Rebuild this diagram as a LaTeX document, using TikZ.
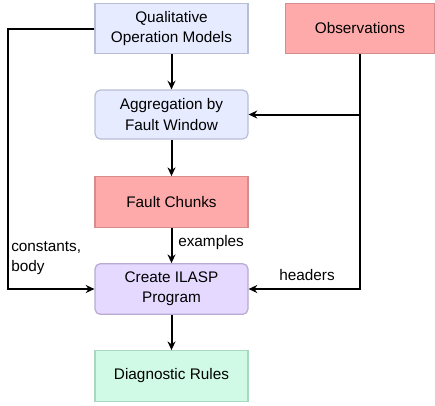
\documentclass[tikz,border=0pt]{standalone}
\usepackage{fontspec}
\setmainfont{Liberation Sans}
\usepackage{xcolor}
\usetikzlibrary{arrows.meta, positioning, calc}
\definecolor{modelblue}{RGB}{230, 235, 255}
\definecolor{modelline}{RGB}{184, 190, 214}
\definecolor{datared}{RGB}{255, 170, 170}
\definecolor{dataline}{RGB}{214, 140, 140}
\definecolor{progviolet}{RGB}{229, 217, 255}
\definecolor{progline}{RGB}{184, 170, 210}
\definecolor{rulegreen}{RGB}{208, 250, 230}
\definecolor{ruleline}{RGB}{168, 216, 192}

\begin{document}
\begin{tikzpicture}[x=0.75pt, y=-0.75pt,
    every node/.style={font=\fontsize{11.5}{15.2}\selectfont},
    box/.style={draw, line width=0.9pt, minimum width=114.75pt, minimum height=38pt,
      align=center, inner sep=2pt},
    procbox/.style={box, rounded corners=4pt},
    flow/.style={line width=1.5pt, -{Stealth[length=6.5pt, width=6pt]}}]
  \useasboundingbox (0,0) rectangle (435,405);

  % Inputs
  \node[box, draw=modelline, fill=modelblue] (qual) at (171.5, 28.5)
    {Qualitative\\Operation Models};
  \node[box, draw=dataline, fill=datared, minimum width=111.75pt] (obs) at (360, 28.5)
    {Observations};

  % Processing chain
  \node[procbox, draw=modelline, fill=modelblue, minimum height=36.75pt] (agg) at (171.5, 114.5)
    {Aggregation by\\Fault Window};
  \node[box, draw=dataline, fill=datared] (chunks) at (171.5, 202)
    {Fault Chunks};
  \node[procbox, draw=progline, fill=progviolet] (ilasp) at (171.5, 289)
    {Create ILASP\\Program};
  \node[box, draw=ruleline, fill=rulegreen] (rules) at (171.5, 376)
    {Diagnostic Rules};

  % Main flow
  \draw[flow] (qual) -- (agg);
  \draw[flow] (agg) -- (chunks);
  \draw[flow] (chunks) -- node[right, xshift=1pt, yshift=2pt] (ex) {examples} (ilasp);
  \draw[flow] (ilasp) -- (rules);

  % Observations feed
  \coordinate (obsbranch) at (obs.south |- agg.east);
  \draw[flow] (obs.south) |- (ilasp.east);
  \draw[flow] (obsbranch) -- (agg.east);
  \node (hdr) at (307, 275) {headers};

  % Model feed on the left
  \coordinate (leftx) at (8, 28.5);
  \draw[flow] (qual.west) -- (leftx) |- (ilasp.west);
  \node[align=left, anchor=north west, inner sep=0pt] (cb) at (11, 241)
    {constants,\\body};
\end{tikzpicture}
\end{document}
